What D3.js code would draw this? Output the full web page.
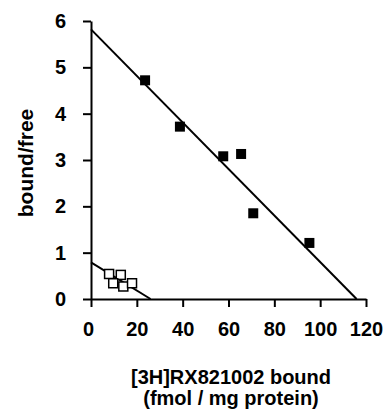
<!DOCTYPE html>
<html>
<head>
<meta charset="utf-8">
<script src="https://cdn.jsdelivr.net/npm/d3@7"></script>
<style>
  body { margin: 0; background: #fff; }
  svg text { font-family: "Liberation Sans", Arial, Helvetica, sans-serif; font-weight: bold; fill: #000; }
</style>
</head>
<body>
<div id="vis"></div>
<script>
// filled squares (high density group)
var filledX = [23.6, 38.8, 57.7, 65.5, 70.8, 95.3];
var filledY = [4.72, 3.72, 3.08, 3.13, 1.85, 1.21];

// open squares (low density group)
var openX = [7.9, 13.0, 9.7, 14.1, 17.9];
var openY = [0.54, 0.52, 0.34, 0.27, 0.34];

// regression lines: [x-start, x-end], [y-start, y-end]
var filledLineX = [0, 115.9];
var filledLineY = [5.82, 0];
var openLineX = [0, 26.0];
var openLineY = [0.79, 0];

var xTicks = [0, 20, 40, 60, 80, 100, 120];
var yTicks = [0, 1, 2, 3, 4, 5, 6];
var xTitle = ['[3H]RX821002 bound', '(fmol / mg protein)'];
var yTitle = 'bound/free';

var width = 390, height = 412;

var svg = d3.select('#vis').append('svg')
  .attr('width', width)
  .attr('height', height);

var x = d3.scaleLinear().domain([0, 120]).range([91, 366]);
var y = d3.scaleLinear().domain([0, 6]).range([299, 21]);

// axes
var xAxis = svg.append('g')
  .attr('transform', 'translate(0,' + y(0) + ')')
  .call(d3.axisBottom(x).tickValues(xTicks).tickFormat(d3.format('d'))
    .tickSize(8).tickSizeOuter(0).tickPadding(15));
var yAxis = svg.append('g')
  .attr('transform', 'translate(' + x(0) + ',0)')
  .call(d3.axisLeft(y).tickValues(yTicks).tickFormat(d3.format('d'))
    .tickSize(8).tickSizeOuter(0).tickPadding(17));

[xAxis, yAxis].forEach(function (a) {
  a.select('.domain').attr('stroke', '#000').attr('stroke-width', 2);
  a.selectAll('.tick line').attr('stroke', '#000').attr('stroke-width', 2);
  a.selectAll('.tick text').attr('font-size', 20);
});
xAxis.select('.tick text').attr('dx', '-3');

// fitted lines
var line = d3.line()
  .x(function (d) { return x(d[0]); })
  .y(function (d) { return y(d[1]); });

[[filledLineX, filledLineY], [openLineX, openLineY]].forEach(function (l) {
  svg.append('path')
    .datum(d3.zip(l[0], l[1]))
    .attr('d', line)
    .attr('fill', 'none')
    .attr('stroke', '#000')
    .attr('stroke-width', 2);
});

// points
var filled = d3.zip(filledX, filledY);
var open = d3.zip(openX, openY);

svg.selectAll('.filled')
  .data(filled)
  .enter().append('rect')
  .attr('class', 'filled')
  .attr('x', function (d) { return x(d[0]) - 5; })
  .attr('y', function (d) { return y(d[1]) - 5; })
  .attr('width', 10)
  .attr('height', 10)
  .attr('fill', '#000');

svg.selectAll('.open')
  .data(open)
  .enter().append('rect')
  .attr('class', 'open')
  .attr('x', function (d) { return x(d[0]) - 4.5; })
  .attr('y', function (d) { return y(d[1]) - 4.5; })
  .attr('width', 9)
  .attr('height', 9)
  .attr('fill', '#fff')
  .attr('stroke', '#000')
  .attr('stroke-width', 1.5);

// axis titles
svg.append('text')
  .attr('text-anchor', 'middle')
  .attr('font-size', 20)
  .selectAll('tspan')
  .data(xTitle)
  .enter().append('tspan')
  .attr('x', 231)
  .attr('y', function (d, i) { return 384 + i * 21; })
  .text(function (d) { return d; });

svg.append('text')
  .attr('transform', 'translate(33,163) rotate(-90)')
  .attr('text-anchor', 'middle')
  .attr('font-size', 21)
  .text(yTitle);
</script>
</body>
</html>
